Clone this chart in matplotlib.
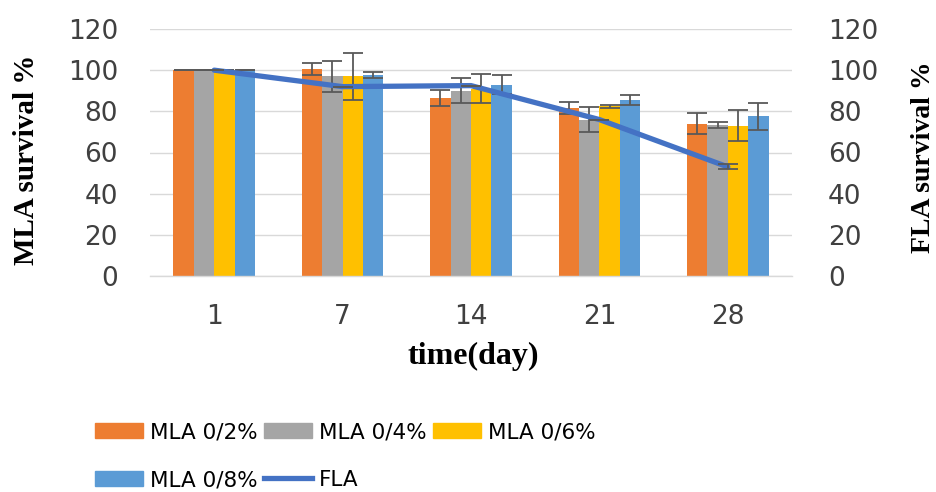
import numpy as np
import matplotlib
matplotlib.use("Agg")
import matplotlib.pyplot as plt
from matplotlib.patches import Patch
from matplotlib.lines import Line2D

# ---- data ----
DAYS = ["1", "7", "14", "21", "28"]
SERIES = ["MLA 0/2%", "MLA 0/4%", "MLA 0/6%", "MLA 0/8%"]
MLA_02 = [100, 100.5, 86.5, 81.5, 74]
MLA_04 = [100, 97, 90, 76, 73.5]
MLA_06 = [100, 97, 91, 82.5, 73]
MLA_08 = [100, 97.5, 93, 85.5, 77.5]
ERR_02 = [0, 3, 4, 3, 5]
ERR_04 = [0, 7.5, 6, 6, 1.5]
ERR_06 = [0, 11.5, 7, 0.8, 7.5]
ERR_08 = [0, 1.5, 4.5, 2.5, 6.5]
FLA = [100, 92, 92.5, 76, 53]
FLA_ERR = [0, 0, 0, 0, 1.2]

COLORS = ["#ED7D31", "#A5A5A5", "#FFC000", "#5B9BD5"]
LINE_C = "#4472C4"
GRID = "#D9D9D9"
ERR_C = "#595959"
INK = "#404040"

plt.rcParams["font.family"] = "DejaVu Sans"

fig = plt.figure(figsize=(9.37, 4.92), dpi=100)
ax = fig.add_axes([150 / 937, 1 - 276 / 492, (792 - 150) / 937, (276 - 29) / 492])

x = np.arange(len(DAYS))
w = 0.159
vals = [MLA_02, MLA_04, MLA_06, MLA_08]
errs = [ERR_02, ERR_04, ERR_06, ERR_08]
for i, (v, e, c) in enumerate(zip(vals, errs, COLORS)):
    pos = x + (i - 1.5) * w
    ax.bar(pos, v, width=w, color=c, edgecolor="none", zorder=2)
    ax.errorbar(pos, v, yerr=e, fmt="none", ecolor=ERR_C, elinewidth=1.3,
                capsize=7, capthick=1.3, zorder=3)

ax.set_xlim(-0.5, 4.5)
ax.set_ylim(0, 120)
ax.set_yticks(range(0, 121, 20))
ax.set_xticks(x)
ax.set_xticklabels(DAYS)
ax.grid(axis="y", color=GRID, lw=1.0, zorder=0)
ax.set_axisbelow(True)
for s in ["top", "right", "left"]:
    ax.spines[s].set_visible(False)
ax.spines["bottom"].set_color(GRID)
ax.spines["bottom"].set_linewidth(1.0)
ax.tick_params(axis="both", length=0, labelsize=19, colors=INK)
ax.tick_params(axis="y", pad=23)
ax.tick_params(axis="x", pad=20)

ax2 = ax.twinx()
ax2.plot(x, FLA, color=LINE_C, lw=3.8, solid_capstyle="round", zorder=4)
ax2.errorbar(x, FLA, yerr=FLA_ERR, fmt="none", ecolor=ERR_C, elinewidth=1.3,
             capsize=7, capthick=1.3, zorder=5)
ax2.set_ylim(0, 120)
ax2.set_yticks(range(0, 121, 20))
for s in ax2.spines.values():
    s.set_visible(False)
ax2.tick_params(axis="y", length=0, labelsize=19, colors=INK, pad=26)

serif = dict(family="Liberation Serif", weight="bold", color="black")
fig.text(27 / 937, 1 - 160 / 492, "MLA survival %", rotation=90, ha="center", va="center",
         fontsize=21, **serif)
fig.text(924 / 937, 1 - 157 / 492, "FLA survival %", rotation=90, ha="center", va="center",
         fontsize=20, **serif)
fig.text(473 / 937, 1 - 356 / 492, "time(day)", ha="center", va="center", fontsize=23, **serif)

handles = [Patch(color=c) for c in COLORS]
line_h = Line2D([0], [0], color=LINE_C, lw=3.8)
common = dict(frameon=False, fontsize=15.5, handlelength=2.25, handleheight=0.7,
              handletextpad=0.3, columnspacing=0.3, borderpad=0, borderaxespad=0,
              labelcolor="black")
leg1 = fig.legend(handles[:3], SERIES[:3], ncol=3, loc="center left",
                  bbox_to_anchor=(95 / 937, 1 - 432 / 492), **common)
leg2 = fig.legend([handles[3], line_h], [SERIES[3], "FLA"], ncol=2, loc="center left",
                  bbox_to_anchor=(95 / 937, 1 - 480 / 492), **common)

fig.savefig("out.png", dpi=100, facecolor="white")
